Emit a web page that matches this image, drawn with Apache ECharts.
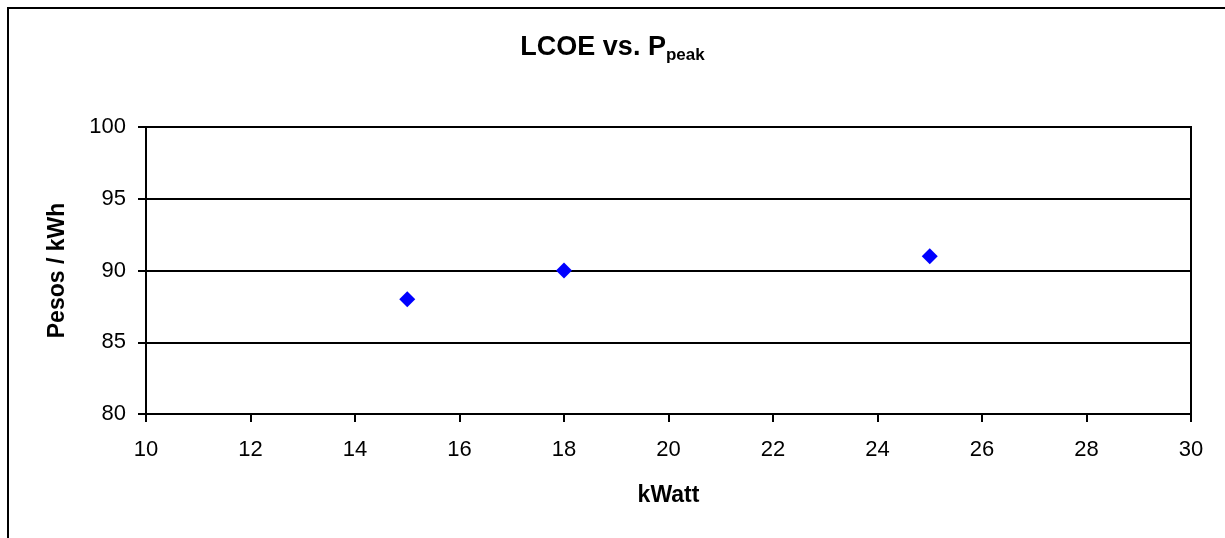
<!DOCTYPE html>
<html>
<head>
<meta charset="utf-8">
<title>LCOE vs. Ppeak</title>
<script src="https://cdn.jsdelivr.net/npm/echarts@6/dist/echarts.min.js"></script>
<style>
  html, body { margin: 0; padding: 0; background: #fff; }
  #chart { width: 1225px; height: 538px; }
</style>
</head>
<body>
<div id="chart"></div>
<script>
// data
const powerKW = [15, 18, 25]
const lcoePesos = [88, 90, 91]

const xTicks = { min: 10, max: 30, interval: 2 }
const yTicks = { min: 80, max: 100, interval: 5 }

const font = 'Liberation Sans, Arial, sans-serif'

const chart = echarts.init(document.getElementById('chart'))

chart.setOption({
  backgroundColor: '#fff',
  animation: false,
  title: {
    text: '{base|LCOE vs. P}{sub|peak}',
    left: 'center',
    top: 28,
    textStyle: {
      rich: {
        base: { fontFamily: font, fontSize: 27, fontWeight: 'bold', color: '#000', lineHeight: 30 },
        sub: { fontFamily: font, fontSize: 17, fontWeight: 'bold', color: '#000', padding: [14, 0, 0, 0], lineHeight: 30 }
      }
    }
  },
  graphic: [
    {
      // outer chart frame (left + top edges only are visible)
      type: 'polyline',
      silent: true,
      shape: { points: [[8, 538], [8, 8], [1225, 8]] },
      style: { stroke: '#000', lineWidth: 2, fill: null }
    }
  ],
  grid: {
    left: 146,
    top: 127,
    right: 34,
    bottom: 124,
    show: true,
    borderColor: '#000',
    borderWidth: 2,
    backgroundColor: '#fff'
  },
  xAxis: {
    type: 'value',
    min: xTicks.min,
    max: xTicks.max,
    interval: xTicks.interval,
    name: 'kWatt',
    nameLocation: 'middle',
    nameGap: 70,
    nameTextStyle: { fontFamily: font, fontSize: 23, fontWeight: 'bold', color: '#000' },
    axisLine: { lineStyle: { color: '#000', width: 2 } },
    axisTick: { show: true, length: 8, lineStyle: { color: '#000', width: 2 } },
    axisLabel: { fontFamily: font, fontSize: 22, color: '#000', margin: 25 },
    splitLine: { show: false }
  },
  yAxis: {
    type: 'value',
    min: yTicks.min,
    max: yTicks.max,
    interval: yTicks.interval,
    name: 'Pesos / kWh',
    nameLocation: 'middle',
    nameGap: 77,
    nameTextStyle: { fontFamily: font, fontSize: 23, fontWeight: 'bold', color: '#000' },
    axisLine: { lineStyle: { color: '#000', width: 2 } },
    axisTick: { show: true, length: 8, lineStyle: { color: '#000', width: 2 } },
    axisLabel: { fontFamily: font, fontSize: 22, color: '#000', margin: 20 },
    splitLine: { show: true, lineStyle: { color: '#000', width: 2 } }
  },
  series: [
    {
      type: 'scatter',
      data: powerKW.map((x, i) => [x, lcoePesos[i]]),
      symbol: 'diamond',
      symbolSize: 16,
      itemStyle: { color: '#0000FF', opacity: 1 }
    }
  ]
})
</script>
</body>
</html>
